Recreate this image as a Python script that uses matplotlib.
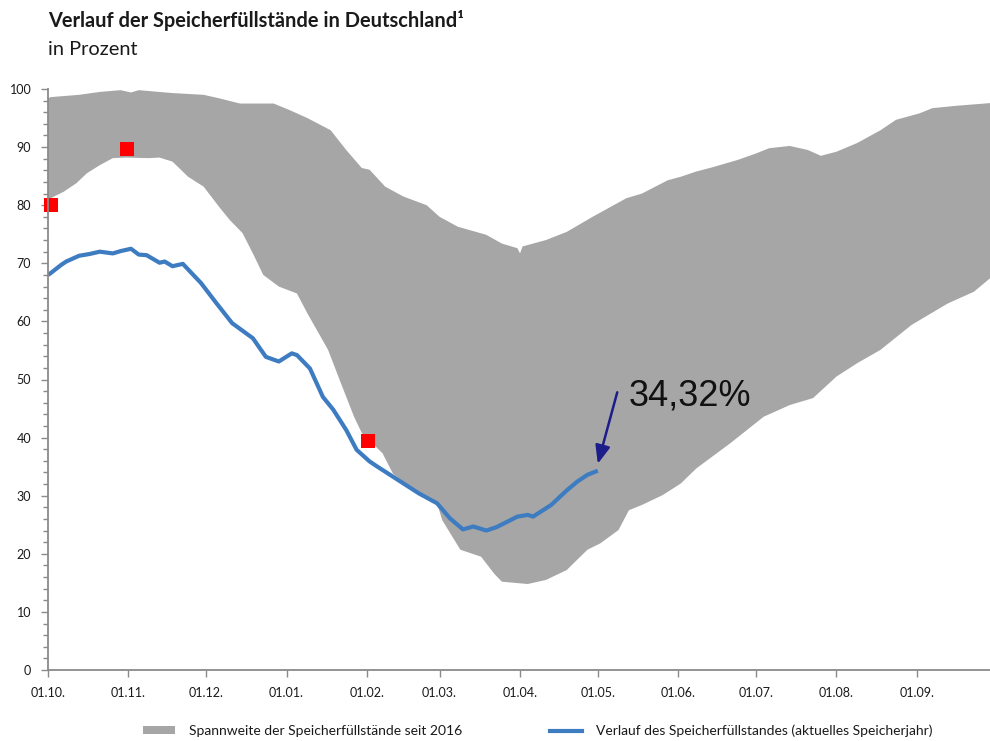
import matplotlib
matplotlib.use("Agg")
import matplotlib.pyplot as plt
from matplotlib.patches import Patch
from matplotlib.lines import Line2D
import numpy as np

# ---- data (day index since 01.10., value in %) ----
upper_days = [0, 1, 12, 20, 28, 32, 35, 48, 60, 66, 74, 87, 93, 100, 109, 115, 121, 124, 130,
              137, 146, 151, 158, 169, 175, 181, 182, 183, 192, 200, 210, 223, 229, 239, 244,
              250, 256, 266, 273, 278, 286, 293, 298, 304, 312, 321, 327, 336, 341, 350, 364]
upper_vals = [98.4, 98.6, 99.0, 99.5, 99.8, 99.4, 99.8, 99.3, 99.0, 98.4, 97.5, 97.5, 96.4, 95.0,
              92.9, 89.5, 86.4, 86.1, 83.2, 81.5, 80.0, 78.0, 76.3, 74.9, 73.4, 72.6, 71.7, 72.9,
              74.0, 75.4, 78.0, 81.2, 82.0, 84.3, 84.9, 85.8, 86.5, 87.8, 88.9, 89.8, 90.2, 89.5,
              88.5, 89.2, 90.7, 92.9, 94.7, 95.8, 96.7, 97.1, 97.6]

lower_days = [0, 1, 6, 11, 15, 20, 25, 30, 39, 43, 48, 54, 60, 66, 70, 75, 79, 83, 89, 96, 100,
              108, 113, 118, 121, 129, 133, 136, 143, 150, 152, 159, 167, 172, 175, 185, 192, 200,
              208, 213, 220, 224, 229, 237, 244, 250, 263, 276, 286, 295, 304, 312, 321, 333, 347,
              357, 364]
lower_vals = [80.5, 81.2, 82.3, 83.8, 85.5, 86.9, 88.1, 88.2, 88.1, 88.2, 87.5, 84.9, 83.2, 79.7,
              77.5, 75.2, 71.7, 68.0, 66.0, 64.8, 61.4, 55.1, 49.3, 43.6, 40.8, 37.3, 33.8, 32.7,
              30.4, 28.7, 25.8, 20.7, 19.5, 16.6, 15.2, 14.8, 15.5, 17.2, 20.7, 21.8, 24.1, 27.5,
              28.4, 30.1, 32.1, 34.7, 39.0, 43.6, 45.6, 46.8, 50.5, 52.8, 55.1, 59.4, 63.1, 65.1,
              67.7]

cur_days = [0, 1, 5, 7, 10, 12, 16, 20, 25, 28, 32, 35, 38, 43, 45, 48, 52, 59, 65, 71, 79, 84,
            89, 94, 96, 101, 106, 110, 115, 119, 124, 127, 135, 143, 150, 155, 160, 164, 169, 173,
            177, 181, 185, 187, 194, 200, 204, 208, 212]
cur_vals = [68.0, 68.3, 69.7, 70.3, 70.9, 71.3, 71.6, 72.0, 71.7, 72.1, 72.5, 71.5, 71.4, 70.1,
            70.3, 69.5, 69.9, 66.6, 63.1, 59.7, 57.1, 53.9, 53.1, 54.5, 54.2, 51.9, 47.0, 44.8,
            41.3, 37.9, 35.9, 35.0, 32.7, 30.4, 28.7, 26.1, 24.2, 24.7, 24.0, 24.6, 25.5, 26.4,
            26.7, 26.4, 28.4, 30.9, 32.4, 33.6, 34.3]

target_days = [1, 30.5, 123.5]
target_vals = [80.0, 89.7, 39.4]

month_days = [0, 31, 61, 92, 123, 151, 182, 212, 243, 273, 304, 335]
month_labels = ["01.10.", "01.11.", "01.12.", "01.01.", "01.02.", "01.03.", "01.04.",
                "01.05.", "01.06.", "01.07.", "01.08.", "01.09."]

label_text = "34,32%"
title = "Verlauf der Speicherfüllstände in Deutschland\u00b9"
subtitle = "in Prozent"
legend_labels = ["Spannweite der Speicherfüllstände seit 2016",
                 "Verlauf des Speicherfüllstandes (aktuelles Speicherjahr)"]

# ---- style ----
FONT = ["Lato", "DejaVu Sans"]
plt.rcParams["font.family"] = FONT
GRAY = "#a6a6a6"
BLUE = "#3d7cc1"
AXC = "#8a8a8a"
TXT = "#1a1a1a"

fig = plt.figure(figsize=(9.9, 7.41), dpi=100)
ax = fig.add_axes([48 / 990, 71 / 741, 944 / 990, 581 / 741])

poly_x = list(upper_days) + list(lower_days)[::-1]
poly_y = list(upper_vals) + list(lower_vals)[::-1]
ax.fill(poly_x, poly_y, color=GRAY, lw=0, zorder=1)

ax.plot(cur_days, cur_vals, color=BLUE, lw=3.0, solid_capstyle="butt", zorder=3)
ax.plot(target_days, target_vals, ls="none", marker="s", ms=9.5, color="#ff0000",
        markeredgewidth=0, zorder=4, clip_on=False)

ax.annotate("", xy=(cur_days[-1], cur_vals[-1] + 1.2), xytext=(219.5, 47.8),
            arrowprops=dict(arrowstyle="-|>,head_length=1.1,head_width=0.45",
                            color="#1c1c8a", lw=1.8, shrinkA=0, shrinkB=0), zorder=5)
ax.text(224, 45.5, label_text, fontsize=26, family=["Liberation Sans", "DejaVu Sans"],
        color="#111111", va="baseline", ha="left", zorder=5)

ax.set_xlim(0, 364)
ax.set_ylim(0, 100)
ax.set_yticks(np.arange(0, 101, 10))
ax.set_yticks(np.arange(0, 101, 2), minor=True)
ax.set_xticks(month_days)
ax.set_xticklabels(month_labels)

for s in ["top", "right"]:
    ax.spines[s].set_visible(False)
for s in ["left", "bottom"]:
    ax.spines[s].set_color(AXC)
    ax.spines[s].set_linewidth(1.3)
    ax.spines[s].set_zorder(6)

ax.tick_params(axis="y", which="major", length=5, width=1, color=AXC, pad=7,
               labelsize=9, labelcolor=TXT)
ax.tick_params(axis="y", which="minor", length=3.5, width=1, color=AXC)
ax.tick_params(axis="x", which="major", length=5, width=1, color=AXC, pad=7,
               labelsize=9, labelcolor=TXT)
ax.set_facecolor("white")

fig.text(48 / 990, 1 - 27 / 741, title, fontsize=14.4, fontweight="bold", color=TXT,
         va="baseline", ha="left")
fig.text(48 / 990, 1 - 55 / 741, subtitle, fontsize=14.4, color=TXT, va="baseline", ha="left")

handles = [Patch(facecolor=GRAY, edgecolor="none"),
           Line2D([0], [0], color=BLUE, lw=3)]
fig.legend(handles, legend_labels, loc="center", bbox_to_anchor=(0.543, 1 - 731 / 741),
           ncol=2, frameon=False, fontsize=10, handlelength=2.3, handleheight=0.5,
           columnspacing=6.3, handletextpad=1.0, labelcolor=TXT)

fig.savefig("out.png", dpi=100, facecolor="white")
